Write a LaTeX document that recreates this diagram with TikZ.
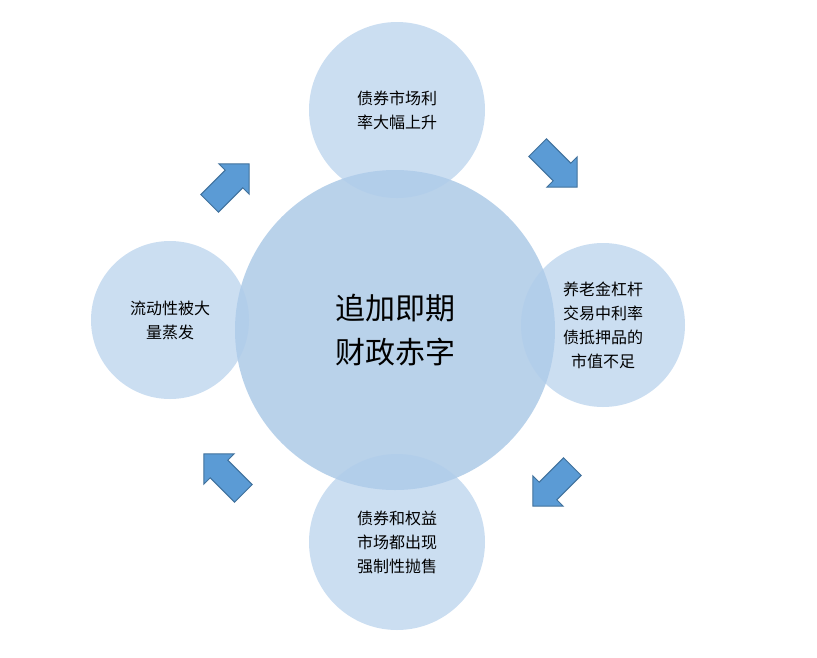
\documentclass[tikz,border=0pt]{standalone}
\usepackage{fontspec}
\newfontfamily\cjk{Noto Sans CJK SC}
\usetikzlibrary{shapes.arrows}
\definecolor{bigfill}{RGB}{185,210,234}
\definecolor{smallfill}{RGB}{175,204,234}
\definecolor{arrowfill}{RGB}{91,155,213}
\definecolor{arrowdraw}{RGB}{65,113,156}
\begin{document}
\begin{tikzpicture}[x=1pt,y=-1pt,
    bigc/.style={circle, fill=bigfill, minimum size=320pt, font=\cjk\fontsize{30}{44}\selectfont, align=center},
    smallc/.style={circle, fill=smallfill, fill opacity=0.65, text opacity=1, font=\cjk\fontsize{16}{24}\selectfont, align=center},
    flow/.style={single arrow, draw=arrowdraw, line width=1pt, fill=arrowfill, minimum height=56pt, single arrow head extend=9pt, inner sep=12pt, single arrow head indent=0pt}
]
\useasboundingbox (0,0) rectangle (817,657);
\node[bigc] (deficit) at (395,330) {追加即期\\财政赤字};
\node[smallc, minimum size=176pt] (rates) at (397,110) {债券市场利\\率大幅上升};
\node[smallc, minimum size=164pt] (pension) at (603,325) {养老金杠杆\\交易中利率\\债抵押品的\\市值不足};
\node[smallc, minimum size=176pt] (selloff) at (397,542) {债券和权益\\市场都出现\\强制性抛售};
\node[smallc, minimum size=158pt] (liquidity) at (170,320) {流动性被大\\量蒸发};
\node[flow, rotate=45] (upright) at (225,188) {};
\node[flow, rotate=-45] (downright) at (553,163) {};
\node[flow, rotate=-135] (downleft) at (557,482) {};
\node[flow, rotate=135] (upleft) at (228,478) {};
\end{tikzpicture}
\end{document}
